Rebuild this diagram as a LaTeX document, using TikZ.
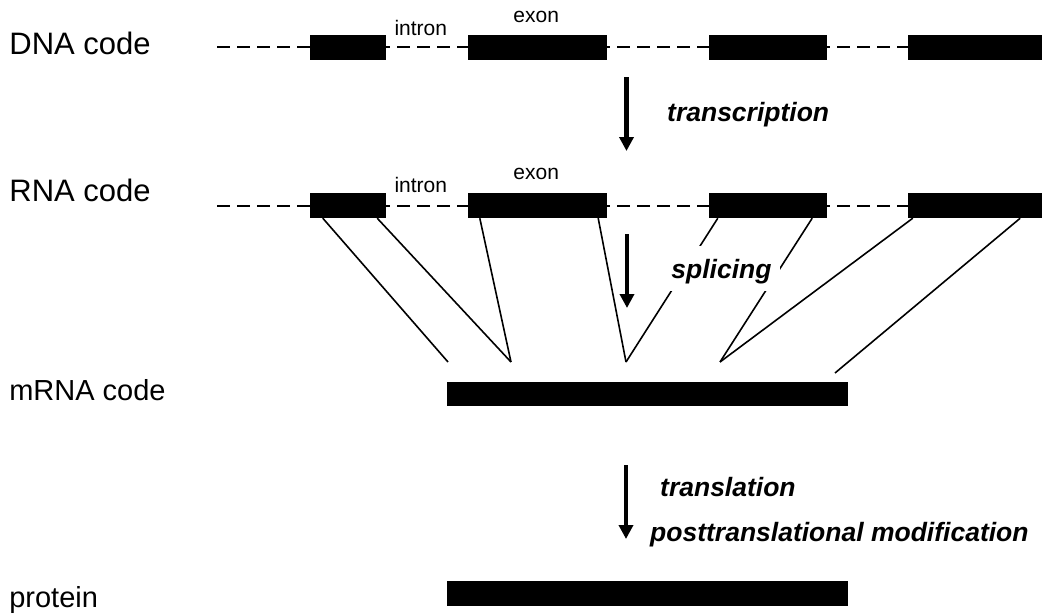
\documentclass[tikz,border=0pt]{standalone}
\usepackage{fontspec}
\setmainfont{Liberation Sans}
\usetikzlibrary{arrows.meta,calc}

\tikzset{
  rowlabel/.style={anchor=base west, inner sep=0pt, font=\fontsize{31}{31}\selectfont},
  rowlabelsm/.style={anchor=base west, inner sep=0pt, font=\fontsize{29}{29}\selectfont},
  partlabel/.style={anchor=base west, inner sep=0pt, font=\fontsize{21}{21}\selectfont},
  steplabel/.style={anchor=base west, inner sep=0pt, font=\fontsize{26.5}{26.5}\selectfont\bfseries\itshape},
  exonbox/.style={fill=black, draw=none, inner sep=0pt, minimum height=25pt},
  strand/.style={line width=2pt, dash pattern=on 13pt off 7pt},
  splice/.style={line width=1.6pt},
  steparrow/.style={line width=4.8pt, -{Triangle[length=14pt,width=14pt]}},
}

\begin{document}
\begin{tikzpicture}[x=1pt, y=-1pt]
\useasboundingbox (0,0) rectangle (1042,616);

% row labels
\node[rowlabel]   (lDNA)  at (9.2,54)  {DNA code};
\node[rowlabel]   (lRNA)  at (9.2,201) {RNA code};
\node[rowlabelsm] (lmRNA) at (9.1,400) {mRNA code};
\node[rowlabelsm] (lprot) at (9.1,607) {protein};

% DNA strand: introns dashed, exons as black bars
\coordinate (dnaL) at (217,47.2);
\coordinate (dnaR) at (1042,47.2);
\draw[strand] (dnaL) -- (dnaR);
\node[exonbox, minimum width=76pt]  (d1) at (348,47.2) {};
\node[exonbox, minimum width=139pt] (d2) at (537.5,47.2) {};
\node[exonbox, minimum width=118pt] (d3) at (768,47.2) {};
\node[exonbox, minimum width=134pt] (d4) at (975,47.2) {};
\node[partlabel] (dintron) at (394.3,35) {intron};
\node[partlabel] (dexon)   at (513.2,22) {exon};

% transcription
\coordinate (tA) at (626.5,77);
\coordinate (tB) at (626.5,151);
\draw[steparrow] (tA) -- (tB);
\node[steplabel] (ttrans) at (667,121.7) {transcription};

% RNA strand
\coordinate (rnaL) at (217,205.5);
\coordinate (rnaR) at (1042,205.5);
\draw[strand] (rnaL) -- (rnaR);
\node[exonbox, minimum width=76pt]  (r1) at (348,205.5) {};
\node[exonbox, minimum width=139pt] (r2) at (537.5,205.5) {};
\node[exonbox, minimum width=118pt] (r3) at (768,205.5) {};
\node[exonbox, minimum width=134pt] (r4) at (975,205.5) {};
\node[partlabel] (rintron) at (394.3,192) {intron};
\node[partlabel] (rexon)   at (513.2,179) {exon};

% splicing: exon ends joined below
\coordinate (aL)  at (448,362);
\coordinate (v1)  at (511,362);
\coordinate (v2)  at (626,362);
\coordinate (v3)  at (720,362);
\coordinate (aR)  at (835,373);
\draw[splice] ($(r1.south west)+(13,0)$) -- (aL);
\draw[splice] ($(r1.south east)+(-9,0)$) -- (v1);
\draw[splice] ($(r2.south west)+(12,0)$) -- (v1);
\draw[splice] ($(r2.south east)+(-9,0)$) -- (v2);
\draw[splice] ($(r3.south west)+(9,0)$) -- (v2);
\draw[splice] ($(r3.south east)+(-15,0)$) -- (v3);
\draw[splice] ($(r4.south west)+(5,0)$) -- (v3);
\draw[splice] ($(r4.south east)+(-22,0)$) -- (aR);

\coordinate (sA) at (627,234);
\coordinate (sB) at (627,308);
\draw[steparrow] (sA) -- (sB);
\node[steplabel, fill=white, anchor=base, inner xsep=8pt, inner ysep=0pt,
      text height=32pt, text depth=13pt] (tsplice) at (721.5,278) {splicing};

% mRNA
\node[exonbox, minimum width=401pt, minimum height=24pt] (mrna) at (647.5,394) {};

% translation
\coordinate (pA) at (626,465);
\coordinate (pB) at (626,539);
\draw[steparrow] (pA) -- (pB);
\node[steplabel] (ttransl) at (660,496.7) {translation};
\node[steplabel] (tpost)   at (650,541.7) {posttranslational modification};

% protein
\node[exonbox, minimum width=401pt] (prot) at (647.5,593.5) {};
\end{tikzpicture}
\end{document}
